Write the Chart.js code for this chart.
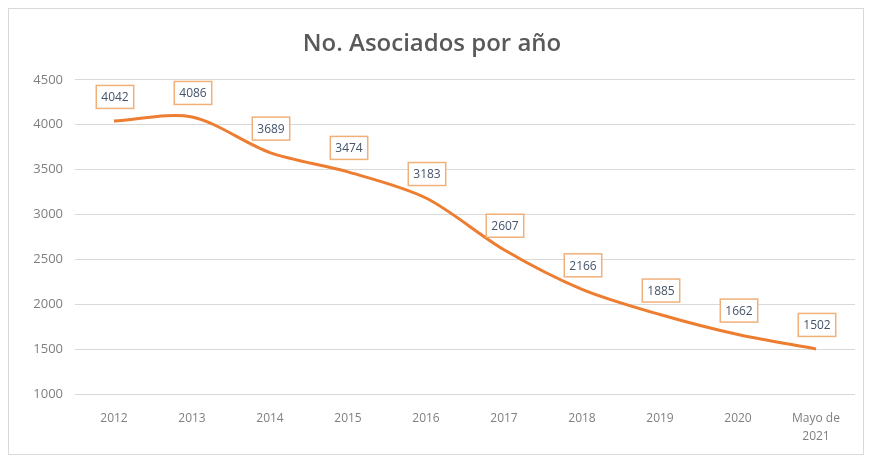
<!DOCTYPE html>
<html>
<head>
<meta charset="utf-8">
<script src="https://cdn.jsdelivr.net/npm/chart.js@4/dist/chart.umd.min.js"></script>
<style>
  body { margin: 0; background: #fff; }
  #wrap { position: absolute; left: 8px; top: 8px; width: 854px; height: 445px; border: 1px solid #d9d9d9; }
</style>
</head>
<body>
<div id="wrap"><canvas id="myChart" width="854" height="445"></canvas></div>
<script>
// categories and values
var years = ['2012', '2013', '2014', '2015', '2016', '2017', '2018', '2019', '2020', ['Mayo de', '2021']];
var asociados = [4042, 4086, 3689, 3474, 3183, 2607, 2166, 1885, 1662, 1502];
var yTicks = [1000, 1500, 2000, 2500, 3000, 3500, 4000, 4500];

// draws the boxed value above each point
var boxLabels = {
    id: 'boxLabels',
    afterDatasetsDraw: function(chart) {
        var ctx = chart.ctx;
        var meta = chart.getDatasetMeta(0);
        ctx.save();
        ctx.font = '12px "Open Sans", sans-serif';
        ctx.textAlign = 'center';
        ctx.textBaseline = 'middle';
        meta.data.forEach(function(pt, i) {
            var txt = String(asociados[i]);
            var w = ctx.measureText(txt).width + 10;
            var h = 23;
            var cx = pt.x + 1;
            var cy = pt.y - 24;
            ctx.fillStyle = '#ffffff';
            ctx.fillRect(cx - w / 2, cy - h / 2, w, h);
            ctx.strokeStyle = '#f0b07a';
            ctx.lineWidth = 1.5;
            ctx.strokeRect(cx - w / 2, cy - h / 2, w, h);
            ctx.fillStyle = '#44546a';
            ctx.fillText(txt, cx, cy + 1);
        });
        ctx.restore();
    }
};

var ctx = document.getElementById('myChart').getContext('2d');
var chart = new Chart(ctx, {
    type: 'line',
    data: {
        labels: years,
        datasets: [{
            label: 'No. Asociados',
            data: asociados,
            borderColor: '#ed7d31',
            backgroundColor: '#ed7d31',
            borderWidth: 3,
            pointRadius: 0,
            tension: 0.3
        }]
    },
    options: {
        responsive: false,
        animation: false,
        layout: { padding: { top: 21, left: 0, right: 8, bottom: 0 } },
        plugins: {
            legend: { display: false },
            tooltip: { enabled: false },
            title: {
                display: true,
                text: 'No. Asociados por año',
                color: '#595959',
                font: { family: '"Open Sans", sans-serif', size: 24, weight: '600' },
                padding: { top: 0, bottom: 21 }
            }
        },
        scales: {
            x: {
                offset: true,
                grid: { display: false },
                border: { display: false },
                ticks: {
                    color: '#7f7f7f',
                    font: { family: '"Open Sans", sans-serif', size: 12, lineHeight: 1.5 },
                    maxRotation: 0,
                    autoSkip: false,
                    padding: 8
                },
                afterFit: function(scale) { scale.height = 60; }
            },
            y: {
                min: 1000,
                max: 4500,
                afterBuildTicks: function(scale) {
                    scale.ticks = yTicks.map(function(v) { return { value: v }; });
                },
                grid: { color: '#d9d9d9', drawTicks: false },
                border: { display: false },
                ticks: {
                    color: '#7f7f7f',
                    font: { family: '"Open Sans", sans-serif', size: 13 },
                    padding: 12,
                    callback: function(v) { return String(v); }
                },
                afterFit: function(scale) { scale.width = 66; }
            }
        }
    },
    plugins: [boxLabels]
});
</script>
</body>
</html>
